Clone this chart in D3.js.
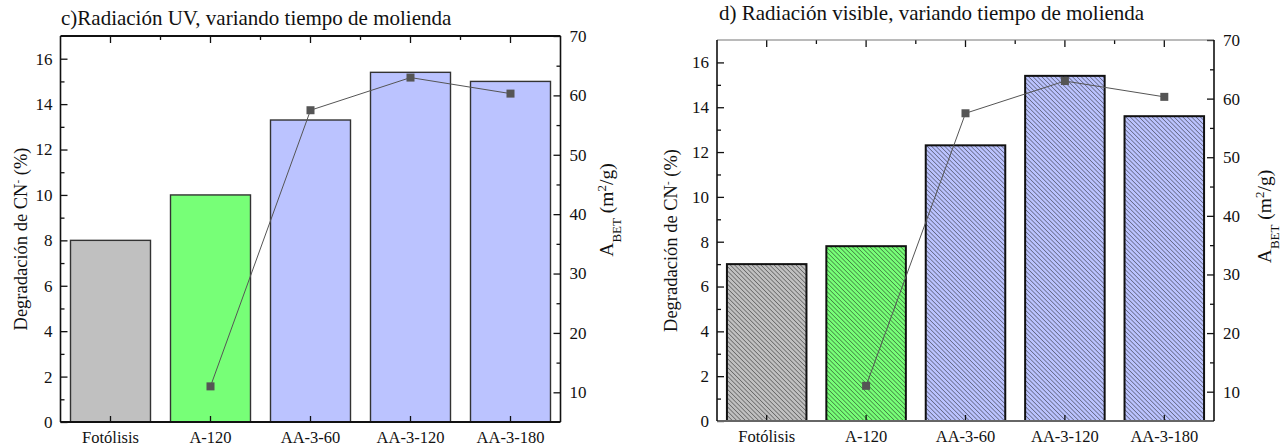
<!DOCTYPE html>
<meta charset="utf-8">
<style>
  body { margin: 0; background: #fff; }
  svg text { font-family: "Liberation Serif", "DejaVu Serif", serif !important; fill: #111; }
</style>
<svg width="1287" height="446"></svg>
<script src="https://d3js.org/d3.v7.min.js"></script>
<script>
var svg = d3.select("svg");

// data
var categories = ["Fotólisis", "A-120", "AA-3-60", "AA-3-120", "AA-3-180"];
var degradUV   = [8, 10, 13.3, 15.4, 15.0];
var degradVis  = [7, 7.8, 12.3, 15.4, 13.6];
var betCats    = ["A-120", "AA-3-60", "AA-3-120", "AA-3-180"];
var betArea    = [11, 57.5, 63, 60.3];
var barColors  = ["#c0c0c0", "#77ff77", "#bbc3ff", "#bbc3ff", "#bbc3ff"];
var leftTicks  = [0, 2, 4, 6, 8, 10, 12, 14, 16];
var rightTicks = [10, 20, 30, 40, 50, 60, 70];

// hatch pattern for the second panel
var defs = svg.append("defs");
defs.append("pattern")
    .attr("id", "hatch")
    .attr("patternUnits", "userSpaceOnUse")
    .attr("width", 3.1).attr("height", 3.1)
    .attr("patternTransform", "rotate(-45)")
    .append("line")
    .attr("x1", 0).attr("y1", 0).attr("x2", 0).attr("y2", 3.1)
    .attr("stroke", "#111").attr("stroke-width", 0.8);

function panel(cfg) {
  var g = svg.append("g");
  var x = d3.scaleBand().domain(categories).range([cfg.x0, cfg.x1])
            .paddingInner(0.2).paddingOuter(0.1);
  var y = d3.scaleLinear().domain([0, 17]).range([cfg.yb, cfg.yt]);
  var y2 = d3.scaleLinear().domain([5, 70]).range([cfg.yb, cfg.yt]);
  var cx = d => x(d) + x.bandwidth() / 2;

  // bars
  var bars = g.append("g").selectAll()
    .data(cfg.values)
    .enter();
  bars.append("rect")
    .attr("x", (d, i) => x(categories[i]))
    .attr("y", d => y(d))
    .attr("width", x.bandwidth())
    .attr("height", d => cfg.yb - y(d))
    .attr("fill", (d, i) => barColors[i]);
  if (cfg.hatch) {
    bars.append("rect")
      .attr("x", (d, i) => x(categories[i]))
      .attr("y", d => y(d))
      .attr("width", x.bandwidth())
      .attr("height", d => cfg.yb - y(d))
      .attr("fill", "url(#hatch)");
  }
  bars.append("rect")
    .attr("x", (d, i) => x(categories[i]))
    .attr("y", d => y(d))
    .attr("width", x.bandwidth())
    .attr("height", d => cfg.yb - y(d))
    .attr("fill", "none")
    .attr("stroke", cfg.hatch ? "#111" : "#333")
    .attr("stroke-width", cfg.hatch ? 2 : 1.4);

  // BET line + markers
  var line = d3.line().x((d, i) => cx(betCats[i])).y(d => y2(d));
  g.append("path").datum(betArea)
    .attr("d", line).attr("fill", "none")
    .attr("stroke", "#555").attr("stroke-width", 1);
  g.append("g").selectAll()
    .data(betArea).enter().append("rect")
    .attr("x", (d, i) => cx(betCats[i]) - 4)
    .attr("y", d => y2(d) - 4)
    .attr("width", 8).attr("height", 8)
    .attr("fill", "#555");

  // axes, ticks inward
  var left = d3.axisLeft(y).tickValues(leftTicks).tickSizeInner(-7).tickSizeOuter(0).tickPadding(8);
  var leftMinor = d3.axisLeft(y).tickValues(d3.range(1, 17, 2)).tickSizeInner(-4).tickSizeOuter(0).tickFormat("");
  var right = d3.axisRight(y2).tickValues(rightTicks).tickSizeInner(-7).tickSizeOuter(0).tickPadding(9);
  var rightMinor = d3.axisRight(y2).tickValues(d3.range(15, 70, 10)).tickSizeInner(-4).tickSizeOuter(0).tickFormat("");
  var bottom = d3.axisBottom(x).tickSizeInner(-6).tickSizeOuter(0).tickPadding(9);
  var top = d3.axisTop(x).tickSizeInner(-7).tickSizeOuter(0).tickFormat("");

  g.append("g").attr("transform", "translate(" + cfg.x0 + ",0)").call(left).call(styleAxis, 17);
  g.append("g").attr("transform", "translate(" + cfg.x0 + ",0)").call(leftMinor).call(styleAxis, 17);
  g.append("g").attr("transform", "translate(" + cfg.x1 + ",0)").call(right).call(styleAxis, 17);
  g.append("g").attr("transform", "translate(" + cfg.x1 + ",0)").call(rightMinor).call(styleAxis, 17);
  g.append("g").attr("transform", "translate(0," + cfg.yb + ")").call(bottom).call(styleAxis, 16.5);
  g.append("g").attr("transform", "translate(0," + cfg.yt + ")").call(top).call(styleAxis, 16.5);

  // minor top ticks between categories
  var mids = categories.slice(1).map(c => x(c) - x.step() * x.paddingInner() / 2);
  g.append("g").selectAll().data(mids).enter().append("line")
    .attr("x1", d => d).attr("x2", d => d)
    .attr("y1", cfg.yt).attr("y2", cfg.yt + 4)
    .attr("stroke", "#111").attr("stroke-width", 1.3);

  // frame
  var f = g.append("g").attr("fill", "none");
  f.append("line").attr("x1", cfg.x0).attr("x2", cfg.x1).attr("y1", cfg.yt).attr("y2", cfg.yt)
    .attr("stroke", cfg.topColor).attr("stroke-width", cfg.topWidth);
  f.append("line").attr("x1", cfg.x0).attr("x2", cfg.x1).attr("y1", cfg.yb).attr("y2", cfg.yb)
    .attr("stroke", cfg.bottomColor).attr("stroke-width", 2);
  f.append("line").attr("x1", cfg.x0).attr("x2", cfg.x0).attr("y1", cfg.yt).attr("y2", cfg.yb)
    .attr("stroke", "#111").attr("stroke-width", 1.6);
  f.append("line").attr("x1", cfg.x1).attr("x2", cfg.x1).attr("y1", cfg.yt).attr("y2", cfg.yb)
    .attr("stroke", "#111").attr("stroke-width", 1.6);

  // title
  g.append("text")
    .attr("x", cfg.titleX).attr("y", cfg.titleY)
    .attr("font-size", 21)
    .text(cfg.title);

  // y label (left)
  var yl = g.append("text")
    .attr("transform", "translate(" + (cfg.x0 - cfg.leftOff) + "," + ((cfg.yt + cfg.yb) / 2 + 10) + ") rotate(-90)")
    .attr("text-anchor", "middle")
    .attr("font-size", 18.5);
  yl.append("tspan").text("Degradación de CN");
  yl.append("tspan").attr("baseline-shift", "super").attr("font-size", 11).text("-");
  yl.append("tspan").text(" (%)");

  // y label (right)
  var yr = g.append("text")
    .attr("transform", "translate(" + (cfg.x1 + cfg.rightOff) + "," + ((cfg.yt + cfg.yb) / 2 + cfg.rightDy) + ") rotate(-90)")
    .attr("text-anchor", "middle")
    .attr("font-size", 19.5);
  yr.append("tspan").text("A");
  yr.append("tspan").attr("baseline-shift", "sub").attr("font-size", 13).text("BET");
  yr.append("tspan").text(" (m");
  yr.append("tspan").attr("baseline-shift", "super").attr("font-size", 13).text("2");
  yr.append("tspan").text("/g)");
}

function styleAxis(sel, fs) {
  sel.attr("font-family", null);
  sel.select(".domain").attr("stroke", "none");
  sel.selectAll(".tick line").attr("stroke", "#111").attr("stroke-width", 1.3);
  sel.selectAll(".tick text")
    .attr("font-size", fs)
    .attr("fill", "#111");
}

panel({ x0: 60.5, x1: 560.5, yt: 36, yb: 422, values: degradUV, hatch: false,
        topColor: "#111", topWidth: 1.8, bottomColor: "#111",
        leftOff: 34, rightOff: 52, rightDy: -19,
        title: "c)Radiación UV, variando tiempo de molienda", titleX: 61, titleY: 25 });
panel({ x0: 717, x1: 1214, yt: 40, yb: 421, values: degradVis, hatch: true,
        topColor: "#777", topWidth: 1.2, bottomColor: "#666",
        leftOff: 40, rightOff: 57, rightDy: -14,
        title: "d) Radiación visible, variando tiempo de molienda", titleX: 719, titleY: 20 });
</script>
